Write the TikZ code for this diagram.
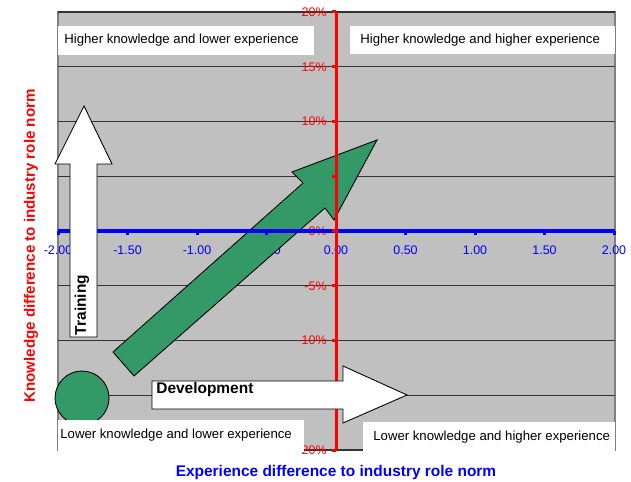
\documentclass[tikz,border=0pt]{standalone}
\usepackage{fontspec}
\setmainfont{Liberation Sans}
\usetikzlibrary{positioning}

\definecolor{plotgray}{HTML}{C0C0C0}
\definecolor{framegray}{HTML}{808080}
\definecolor{arrowgreen}{HTML}{339966}
\definecolor{axisred}{HTML}{FF0000}
\definecolor{axisblue}{HTML}{0000FF}

\tikzset{
    quadtext/.style={anchor=west, inner sep=0pt, font=\fontsize{7.5}{9}\selectfont},
    ticklabel/.style={inner sep=0pt, font=\fontsize{7.1}{8}\selectfont},
    boldtext/.style={inner sep=0pt, font=\fontsize{8.8}{10}\selectfont\bfseries},
    gridline/.style={draw=black!80, line width=0.6pt},
    bigarrow/.style={draw=black, line width=0.5pt, line join=miter}
}

\begin{document}
\begin{tikzpicture}[x=0.02cm, y=-0.02cm]
    \useasboundingbox (0,0) rectangle (631,482);

    % Plot area
    \fill[plotgray] (58,12) rectangle (615,450);
    \draw[framegray, line width=0.6pt] (58,12) rectangle (615,450);

    % Gridlines and knowledge labels
    \foreach \p in {-20,-15,...,20} {
        \ifnum\p=0\else
            \draw[gridline] (58,231-\p*10.95) -- (615,231-\p*10.95);
        \fi
        \node[ticklabel, anchor=east, text=axisred] (k\p) at (327,231-\p*10.95) {\p\%};
    }

    % Experience labels
    \foreach \v/\t in {-2/-2.00,-1.5/-1.50,-1/-1.00,-0.5/-0.50,0/0.00,0.5/0.50,1/1.00,1.5/1.50,2/2.00} {
        \node[ticklabel, text=axisblue] (e\t) at (336+\v*139,250) {\t};
    }

    % Development path (green)
    \fill[arrowgreen] (82,398) circle (27);
    \draw[bigarrow, fill=arrowgreen] (113,352) -- (303,183) -- (292,172) -- (377,140)
        -- (334,220) -- (325,208) -- (134,376) -- cycle;

    % Axes
    \draw[axisblue, line width=1.8pt] (58,231) -- (615,231);
    \foreach \v in {-2,-1.5,...,2}
        \fill[axisblue] (336+\v*139-1.5,231) rectangle (336+\v*139+1.5,235);
    \draw[axisred, line width=1.7pt] (336,12) -- (336,450);
    \foreach \p in {-20,-15,...,20}
        \fill[axisred] (332,231-\p*10.95-1.5) rectangle (336,231-\p*10.95+1.5);

    % Circle outline over the gridline
    \draw[black, line width=0.5pt] (82,398) circle (27);

    % Quadrant captions
    \fill[white] (58,26) rectangle (314,55);
    \node[quadtext] (hklow) at (64,40) {Higher knowledge and lower experience};
    \fill[white] (350,26) rectangle (615,54);
    \node[quadtext] (hkhigh) at (360,40) {Higher knowledge and higher experience};
    \fill[white] (58,420) rectangle (304,452);
    \node[quadtext] (lklow) at (60,435) {Lower knowledge and lower experience};
    \fill[white] (363,422) rectangle (615,452);
    \node[quadtext] (lkhigh) at (373,437) {Lower knowledge and higher experience};

    % Training arrow
    \draw[bigarrow, fill=white] (70,337) -- (70,164) -- (55,164) -- (84,106)
        -- (112,164) -- (97,164) -- (97,337) -- cycle;
    \node[boldtext, rotate=90] (training) at (82,305) {Training};

    % Development arrow
    \draw[bigarrow, fill=white] (152,381) -- (343,381) -- (343,366) -- (407,395)
        -- (343,423) -- (343,409) -- (152,409) -- cycle;
    \node[boldtext, anchor=west] (development) at (156,390) {Development};

    % Axis titles
    \node[boldtext, text=axisblue] (xtitle) at (336,472) {Experience difference to industry role norm};
    \node[boldtext, text=axisred, rotate=90, font=\fontsize{8.6}{10}\selectfont\bfseries] (ytitle) at (31,246) {Knowledge difference to industry role norm};
\end{tikzpicture}
\end{document}
